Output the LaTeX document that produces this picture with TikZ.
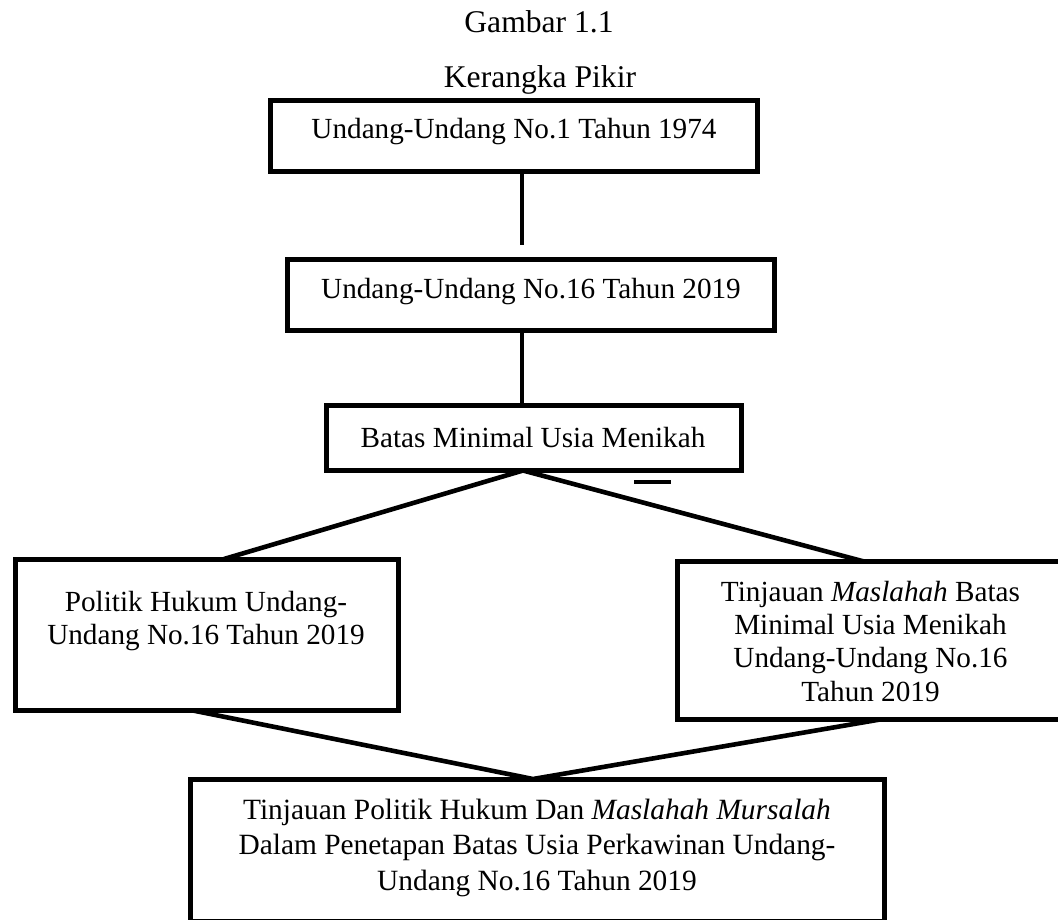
\documentclass[tikz,border=0pt]{standalone}
\usepackage{fontspec}
\setmainfont{Liberation Serif}
\begin{document}
\begin{tikzpicture}[x=1pt,y=-1pt,
  box/.style={draw=black, line width=5pt, rectangle, inner sep=0pt, outer sep=0pt},
  conn/.style={draw=black, line width=4.6pt},
  txt/.style={anchor=base, inner sep=0pt, font=\fontsize{29.2}{33.4}\selectfont},
  ttl/.style={anchor=base, inner sep=0pt, font=\fontsize{31.6}{36}\selectfont}]
\useasboundingbox (0,0) rectangle (1058,919);
\clip (0,0) rectangle (1058,919);
\fill[white] (0,0) rectangle (1058,919);

% titles
\node[ttl] (g) at (539,32) {Gambar 1.1};
\node[ttl] (k) at (540,87) {Kerangka Pikir};

% boxes
\node[box, minimum width=487pt, minimum height=70.5pt] (b1) at (514,135.75) {};
\node[box, minimum width=486.5pt, minimum height=71.5pt] (b2) at (530.75,294.75) {};
\node[box, minimum width=415.5pt, minimum height=65.5pt] (b3) at (533.75,437.75) {};
\node[box, minimum width=383pt, minimum height=151.5pt] (bl) at (207,634.75) {};
\node[box, minimum width=386.5pt, minimum height=158pt] (br) at (870.75,640.5) {};
\node[box, minimum width=694pt, minimum height=142pt] (bb) at (537,850) {};

% texts
\node[txt] (t1) at (514,138) {Undang-Undang No.1 Tahun 1974};
\node[txt] (t2) at (531,298) {Undang-Undang No.16 Tahun 2019};
\node[txt] (t3) at (533,447) {Batas Minimal Usia Menikah};
\node[anchor=base, inner sep=0pt] (tl) at (206,611) {\fontsize{29.2}{33}\selectfont
  \begin{tabular}[t]{@{}c@{}}Politik Hukum Undang-\\Undang No.16 Tahun 2019\end{tabular}};
\node[anchor=base, inner sep=0pt] (tr) at (870.5,601) {\fontsize{29.2}{33.4}\selectfont
  \begin{tabular}[t]{@{}c@{}}Tinjauan \textit{Maslahah} Batas\\Minimal Usia Menikah\\Undang-Undang No.16\\Tahun 2019\end{tabular}};
\node[anchor=base, inner sep=0pt] (tb) at (537,819) {\fontsize{29.4}{35.5}\selectfont
  \begin{tabular}[t]{@{}c@{}}Tinjauan Politik Hukum Dan \textit{Maslahah Mursalah}\\Dalam Penetapan Batas Usia Perkawinan Undang-\\Undang No.16 Tahun 2019\end{tabular}};

% connector coordinates
\coordinate (g1) at (522,245);
\coordinate (v2) at (522,0);
\coordinate (a3) at (523,470.5);
\coordinate (lt) at (224,0);
\coordinate (rt) at (864,0);
\coordinate (lb) at (193,0);
\coordinate (rb) at (880,0);
\coordinate (m) at (533,0);
\coordinate (d1) at (634,482);
\coordinate (d2) at (671,482);

% connectors
\draw[conn] (g1 |- b1.south) -- (g1);
\draw[conn] (v2 |- b2.south) -- (v2 |- b3.north);
\draw[conn] (lt |- bl.north) -- (a3) -- (rt |- br.north);
\draw[conn] (lb |- bl.south) -- (m |- bb.north) -- (rb |- br.south);
\draw[line width=4pt] (d1) -- (d2);
\end{tikzpicture}
\end{document}
